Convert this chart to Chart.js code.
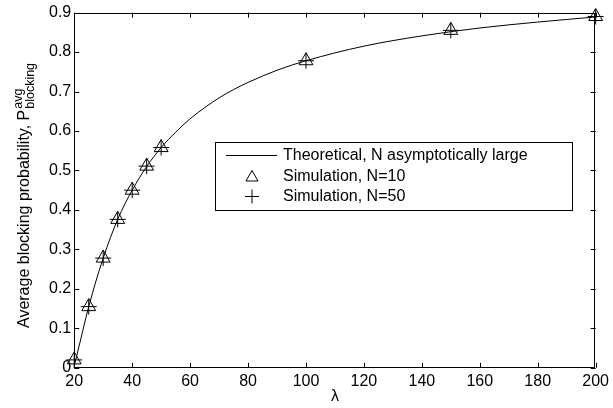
<!DOCTYPE html>
<html>
<head>
<meta charset="utf-8">
<script src="https://cdn.jsdelivr.net/npm/chart.js@4/dist/chart.umd.min.js"></script>
<style>
  html, body { margin: 0; padding: 0; background: #fff; }
  #wrap { width: 613px; height: 408px; }
</style>
</head>
<body>
<div id="wrap"><canvas id="chart"></canvas></div>
<script>
// lambda values and blocking probabilities
const theoryLambda = [20, 22, 25, 30, 35, 40, 45, 50, 55, 60, 65, 70, 75, 80, 90, 100, 120, 140, 160, 180, 200];
const theoryP      = [0.005, 0.065, 0.155, 0.278, 0.376, 0.45, 0.51, 0.558, 0.597, 0.631, 0.659, 0.684, 0.705, 0.723, 0.754, 0.778, 0.815, 0.841, 0.861, 0.876, 0.889];

const simLambda = [20, 25, 30, 35, 40, 45, 50, 100, 150, 200];
const simN10    = [0.02, 0.155, 0.278, 0.376, 0.45, 0.511, 0.558, 0.778, 0.855, 0.89];
const simN50    = [0.02, 0.155, 0.278, 0.376, 0.45, 0.511, 0.558, 0.778, 0.855, 0.89];

const xTicks = [20, 40, 60, 80, 100, 120, 140, 160, 180, 200];
const yTicks = [0, 0.1, 0.2, 0.3, 0.4, 0.5, 0.6, 0.7, 0.8, 0.9];

const FONT = 'Liberation Sans, Arial, Helvetica, sans-serif';

const toPts = (xs, ys) => xs.map((x, i) => ({ x: x, y: ys[i] }));

// MATLAB-style frame: box on all sides with inward ticks, plus titles and legend
const matlabFrame = {
    id: 'matlabFrame',
    afterDraw(chart) {
        const { ctx, chartArea: a, scales } = chart;
        ctx.save();
        ctx.strokeStyle = '#000';
        ctx.lineWidth = 1;
        ctx.strokeRect(Math.round(a.left) + 0.5, Math.round(a.top) + 0.5,
            Math.round(a.right - a.left) - 1, Math.round(a.bottom - a.top) - 1);
        const len = 5;
        ctx.beginPath();
        xTicks.forEach(v => {
            const px = Math.round(scales.x.getPixelForValue(v)) + 0.5;
            ctx.moveTo(px, a.bottom); ctx.lineTo(px, a.bottom - len);
            ctx.moveTo(px, a.top); ctx.lineTo(px, a.top + len);
        });
        yTicks.forEach(v => {
            const py = Math.round(scales.y.getPixelForValue(v)) + 0.5;
            ctx.moveTo(a.left, py); ctx.lineTo(a.left + len, py);
            ctx.moveTo(a.right, py); ctx.lineTo(a.right - len, py);
        });
        ctx.stroke();

        // x axis title
        ctx.fillStyle = '#000';
        ctx.font = '16px ' + FONT;
        ctx.textAlign = 'center';
        ctx.textBaseline = 'middle';
        ctx.fillText('λ', (a.left + a.right) / 2, 397);

        // y axis title with super/subscript
        ctx.textAlign = 'left';
        ctx.textBaseline = 'alphabetic';
        ctx.translate(28.5, 328);
        ctx.rotate(-Math.PI / 2);
        const main = 'Average blocking probability, P';
        ctx.font = '16px ' + FONT;
        ctx.fillText(main, 0, 0);
        const w1 = ctx.measureText(main).width;
        ctx.font = '12.5px ' + FONT;
        ctx.fillText('avg', w1 + 1, -6.5);
        ctx.fillText('blocking', w1 + 1, 5.5);
        ctx.restore();

        // legend box
        const ds = chart.data.datasets;
        const bx = 215, by = 142, bw = 357, bh = 68;
        ctx.save();
        ctx.fillStyle = '#fff';
        ctx.fillRect(bx, by, bw, bh);
        ctx.strokeStyle = '#000';
        ctx.lineWidth = 1;
        ctx.strokeRect(bx + 0.5, by + 0.5, bw, bh);
        const rows = [155.5, 176.5, 196.5];
        ctx.beginPath();
        ctx.moveTo(226, rows[0]); ctx.lineTo(277, rows[0]);
        ctx.stroke();
        ctx.fillStyle = 'rgba(0,0,0,0)';
        Chart.helpers.drawPoint(ctx, { pointStyle: 'triangle', radius: 7, rotation: 0, borderWidth: 1 }, 252, rows[1] + 1);
        Chart.helpers.drawPoint(ctx, { pointStyle: 'cross', radius: 7, rotation: 0, borderWidth: 1 }, 252, rows[2]);
        ctx.font = '16px ' + FONT;
        ctx.fillStyle = '#000';
        ctx.textBaseline = 'middle';
        ds.forEach((d, i) => ctx.fillText(d.label, 283, rows[i]));
        ctx.restore();
    }
};

new Chart(document.getElementById('chart'), {
    type: 'scatter',
    data: {
        datasets: [{
            label: 'Theoretical, N asymptotically large',
            data: toPts(theoryLambda, theoryP),
            showLine: true,
            borderColor: '#000',
            borderWidth: 1,
            pointRadius: 0,
            cubicInterpolationMode: 'monotone',
            clip: false
        }, {
            label: 'Simulation, N=10',
            data: toPts(simLambda, simN10),
            pointStyle: 'triangle',
            pointRadius: 8,
            borderColor: '#000',
            backgroundColor: 'rgba(0,0,0,0)',
            pointBorderWidth: 1,
            clip: false
        }, {
            label: 'Simulation, N=50',
            data: toPts(simLambda, simN50),
            pointStyle: 'cross',
            pointRadius: 8,
            borderColor: '#000',
            pointBorderWidth: 1,
            clip: false
        }]
    },
    options: {
        responsive: true,
        maintainAspectRatio: false,
        animation: false,
        layout: { padding: { left: 46, top: 12, right: 11, bottom: 13 } },
        plugins: { legend: { display: false }, tooltip: { enabled: false } },
        scales: {
            x: {
                type: 'linear', min: 20, max: 200,
                afterBuildTicks: s => { s.ticks = xTicks.map(v => ({ value: v })); },
                ticks: { color: '#000', font: { family: FONT, size: 16 }, padding: 4, maxRotation: 0 },
                grid: { display: false, drawTicks: false },
                border: { display: false }
            },
            y: {
                type: 'linear', min: 0, max: 0.9,
                afterBuildTicks: s => { s.ticks = yTicks.map(v => ({ value: v })); },
                ticks: { color: '#000', font: { family: FONT, size: 16 }, padding: 3, callback: v => String(Math.round(v * 10) / 10) },
                grid: { display: false, drawTicks: false },
                border: { display: false }
            }
        }
    },
    plugins: [matlabFrame]
});
</script>
</body>
</html>
